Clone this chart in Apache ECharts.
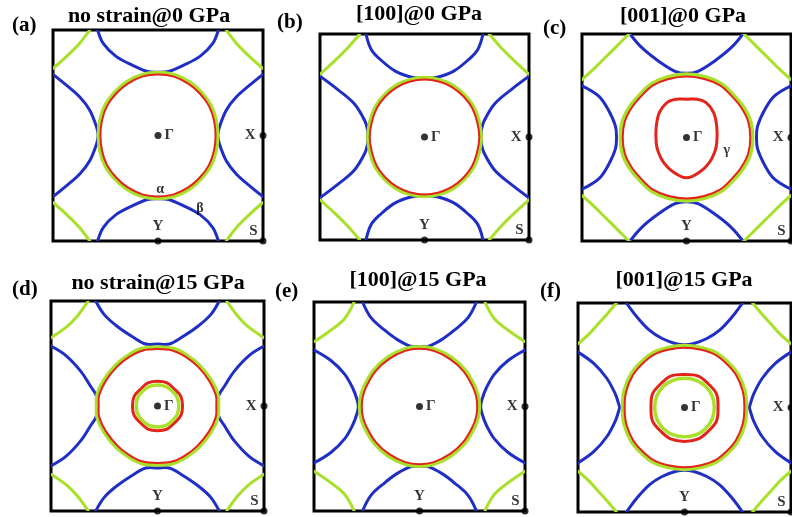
<!DOCTYPE html>
<html>
<head>
<meta charset="utf-8">
<script src="https://cdn.jsdelivr.net/npm/echarts@6/dist/echarts.min.js"></script>
<style>
  html, body { margin: 0; padding: 0; background: #fff; }
  #chart { width: 792px; height: 517px; }
</style>
</head>
<body>
<div id="chart"></div>
<script>
// Fermi surface cuts in the kx-ky plane, six panels: three strain states at 0 and 15 GPa.
// Coordinates are reduced: Γ = (0,0), X = (1,0), Y = (0,-1), S = (1,-1).

const panelTitles = ['no strain@0 GPa', '[100]@0 GPa', '[001]@0 GPa',
                     'no strain@15 GPa', '[100]@15 GPa', '[001]@15 GPa'];
const panelTags = ['(a)', '(b)', '(c)', '(d)', '(e)', '(f)'];

// β sheet (blue) around Y: quarter from (0, ky_min) out to the zone edge at ky = 1
const pocketY = [
  [[0,0.6],[0.1,0.607],[0.24,0.665],[0.4,0.75],[0.52,0.87],[0.575,1]],
  [[0,0.57],[0.12,0.58],[0.28,0.64],[0.42,0.75],[0.51,0.85],[0.56,1]],
  [[0,0.62],[0.11,0.64],[0.27,0.74],[0.43,0.87],[0.54,1]],
  [[0,0.59],[0.11,0.59],[0.22,0.65],[0.38,0.76],[0.5,0.87],[0.58,1]],
  [[0,0.575],[0.08,0.575],[0.21,0.64],[0.33,0.73],[0.46,0.85],[0.54,1]],
  [[0,0.6],[0.08,0.61],[0.21,0.66],[0.33,0.74],[0.45,0.87],[0.545,1]]
];

// β sheet (blue) around X: quarter from (kx_min, 0) out to the zone edge at kx = 1
const pocketX = [
  [[0.57,0],[0.585,0.08],[0.65,0.24],[0.745,0.365],[0.87,0.475],[1,0.58]],
  [[0.54,0],[0.545,0.07],[0.57,0.155],[0.67,0.32],[0.83,0.46],[1,0.59]],
  [[0.67,0],[0.68,0.11],[0.75,0.27],[0.84,0.4],[1,0.5]],
  [[0.57,0],[0.575,0.1],[0.63,0.19],[0.72,0.33],[0.86,0.48],[1,0.57]],
  [[0.58,0],[0.59,0.06],[0.63,0.17],[0.71,0.31],[0.84,0.44],[1,0.54]],
  [[0.61,0],[0.62,0.04],[0.65,0.13],[0.73,0.28],[0.85,0.42],[1,0.53]]
];

// green sheet around S: from the side edge (kx = 1) to the top edge (ky = 1)
const cornerS = [
  [[1,0.635],[0.87,0.75],[0.75,0.87],[0.65,1]],
  [[1,0.61],[0.87,0.73],[0.74,0.86],[0.62,1]],
  [[1,0.56],[0.89,0.66],[0.78,0.77],[0.66,0.89],[0.55,1]],
  [[1,0.65],[0.845,0.76],[0.75,0.86],[0.65,1]],
  [[1,0.62],[0.84,0.73],[0.71,0.84],[0.62,1]],
  [[1,0.61],[0.9,0.7],[0.82,0.79],[0.73,0.89],[0.64,1]]
];

// α sheet around Γ, green and red branches: quarter from (r,0) to (0,r)
const alphaGreen = [
  [[0.565,0],[0.55,0.15],[0.5,0.29],[0.41,0.41],[0.3,0.505],[0.155,0.575],[0,0.595]],
  [[0.54,0],[0.52,0.15],[0.47,0.29],[0.385,0.405],[0.27,0.5],[0.14,0.555],[0,0.575]],
  [[0.63,0],[0.61,0.16],[0.54,0.3],[0.44,0.42],[0.33,0.52],[0.175,0.585],[0,0.61]],
  [[0.57,0],[0.565,0.11],[0.5,0.25],[0.39,0.39],[0.27,0.485],[0.15,0.545],[0,0.56]],
  [[0.565,0],[0.555,0.1],[0.52,0.2],[0.43,0.35],[0.3,0.47],[0.14,0.55],[0,0.57]],
  [[0.58,0],[0.565,0.16],[0.5,0.32],[0.41,0.43],[0.3,0.52],[0.16,0.57],[0,0.59]]
];
const alphaRed = [
  [[0.548,0],[0.533,0.145],[0.485,0.281],[0.398,0.398],[0.291,0.49],[0.15,0.558],[0,0.578]],
  [[0.524,0],[0.504,0.145],[0.456,0.281],[0.374,0.393],[0.262,0.485],[0.136,0.538],[0,0.558]],
  [[0.61,0],[0.59,0.155],[0.523,0.29],[0.426,0.407],[0.32,0.504],[0.17,0.566],[0,0.59]],
  [[0.552,0],[0.547,0.106],[0.484,0.242],[0.377,0.377],[0.261,0.47],[0.145,0.527],[0,0.542]],
  [[0.547,0],[0.537,0.097],[0.503,0.193],[0.416,0.339],[0.29,0.454],[0.135,0.532],[0,0.552]],
  [[0.562,0],[0.547,0.155],[0.484,0.31],[0.397,0.416],[0.29,0.503],[0.155,0.552],[0,0.572]]
];

// inner red pockets (γ): right half, from the top (0, ky_top) down to (0, ky_bottom)
const innerRed = [
  null,
  null,
  [[0,0.37],[0.1,0.37],[0.19,0.335],[0.26,0.24],[0.29,0.1],[0.29,-0.05],[0.27,-0.14],[0.22,-0.24],[0.13,-0.33],[0,-0.39]],
  [[0,0.235],[0.09,0.22],[0.16,0.16],[0.22,0.09],[0.235,0],[0.22,-0.09],[0.16,-0.16],[0.09,-0.22],[0,-0.235]],
  null,
  [[0,0.315],[0.13,0.3],[0.22,0.23],[0.3,0.13],[0.315,0],[0.3,-0.13],[0.22,-0.23],[0.13,-0.3],[0,-0.325]]
];
// inner green pockets: quarter from (r,0) to (0,r)
const innerGreen = [
  null, null, null,
  [[0.2,0],[0.185,0.08],[0.14,0.14],[0.08,0.185],[0,0.2]],
  null,
  [[0.28,0],[0.26,0.11],[0.2,0.2],[0.11,0.26],[0,0.28]]
];

// high-symmetry points
const symPoints = [[0,0],[1,0],[0,-1],[1,-1]];
const symNames = ['Γ', 'X', 'Y', 'S'];

// sheet labels
const greekText = ['α', 'β', 'γ'];
const greekPanel = [0, 0, 2];
const greekPos = [[0.02,-0.515],[0.4,-0.69],[0.385,-0.125]];

// ---- layout ----
const grids = [
  { left: 53,  top: 30,  width: 210, height: 211 },
  { left: 320, top: 34,  width: 209, height: 206 },
  { left: 582, top: 34,  width: 209, height: 207 },
  { left: 51,  top: 301, width: 213, height: 210 },
  { left: 314, top: 302, width: 211, height: 209 },
  { left: 578, top: 303, width: 213, height: 209 }
];
const titlePos = [[149,16],[419,14],[683,16],[158,283],[418,280],[684,280]];
const tagPos = [[12,26],[277,23],[543,29],[12,290],[275,292],[540,292]];

const BLUE = '#1f2fc4';
const GREEN = '#a8e02a';
const RED = '#e3241b';
const SERIF = '"Liberation Serif", "Times New Roman", serif';

// ---- mirror helpers (the sheets share the mirror planes of the zone) ----
function fullRing(q) {
  const q2 = q.slice().reverse().map(([x, y]) => [-x, y]);
  const q3 = q.map(([x, y]) => [-x, -y]);
  const q4 = q.slice().reverse().map(([x, y]) => [x, -y]);
  // closed loop, without repeating the starting point
  return [...q, ...q2.slice(1), ...q3.slice(1), ...q4.slice(1, -1)];
}
function fullFromHalf(h) {
  const left = h.slice().reverse().map(([x, y]) => [-x, y]);
  return [...h, ...left.slice(1, -1)];
}
function yPockets(q) {
  const top = [...q.slice().reverse().map(([x, y]) => [-x, y]), ...q.slice(1)];
  return [top, top.map(([x, y]) => [x, -y])];
}
function xPockets(q) {
  const right = [...q.slice().reverse().map(([x, y]) => [x, -y]), ...q.slice(1)];
  return [right, right.map(([x, y]) => [-x, y])];
}
function corners(q) {
  return [[1,1],[-1,1],[-1,-1],[1,-1]].map(([sx, sy]) => q.map(([x, y]) => [sx * x, sy * y]));
}

// collect the curves of every panel
const panelCurves = [];
for (let i = 0; i < 6; i++) {
  const list = [];
  yPockets(pocketY[i]).forEach(p => list.push({ pts: p, color: BLUE, width: 3, closed: false, z: 1 }));
  xPockets(pocketX[i]).forEach(p => list.push({ pts: p, color: BLUE, width: 3, closed: false, z: 1 }));
  corners(cornerS[i]).forEach(p => list.push({ pts: p, color: GREEN, width: 3, closed: false, z: 2 }));
  list.push({ pts: fullRing(alphaGreen[i]), color: GREEN, width: 4, closed: true, z: 2 });
  list.push({ pts: fullRing(alphaRed[i]), color: RED, width: 2, closed: true, z: 3 });
  if (innerRed[i]) list.push({ pts: fullFromHalf(innerRed[i]), color: RED, width: 3, closed: true, z: 3 });
  if (innerGreen[i]) list.push({ pts: fullRing(innerGreen[i]), color: GREEN, width: 3.5, closed: true, z: 4 });
  panelCurves.push(list);
}

const series = [];
const xAxes = [], yAxes = [], gridOpts = [];
for (let i = 0; i < 6; i++) {
  gridOpts.push(Object.assign({ show: true, borderColor: '#000', borderWidth: 3,
                                backgroundColor: 'transparent' }, grids[i]));
  xAxes.push({ type: 'value', gridIndex: i, min: -1, max: 1, show: false });
  yAxes.push({ type: 'value', gridIndex: i, min: -1, max: 1, show: false });

  // Fermi contours: smooth curves through the listed k-points, placed by the axes
  series.push({
    type: 'custom', xAxisIndex: i, yAxisIndex: i, silent: true, z: 2,
    data: panelCurves[i].map((c, k) => [0, 0, k]),
    encode: { x: 0, y: 1 },
    renderItem: function (params, api) {
      const c = panelCurves[i][api.value(2)];
      const pts = c.pts.map(p => api.coord(p));
      const cs = params.coordSys;
      return {
        type: 'group',
        clipPath: { type: 'rect', shape: { x: cs.x, y: cs.y, width: cs.width, height: cs.height } },
        children: [{
          type: c.closed ? 'polygon' : 'polyline',
          z2: c.z,
          shape: { points: pts, smooth: 0.36 },
          style: { stroke: c.color, lineWidth: c.width, fill: null, lineCap: 'round', lineJoin: 'round' }
        }]
      };
    }
  });

  // high-symmetry points with their labels
  const labelCfg = [
    { position: 'right', offset: [-2, 0] },
    { position: 'left', offset: [1, 0] },
    { position: 'top', offset: [0, 1] },
    { position: 'left', offset: [3, -10] }
  ];
  series.push({
    type: 'scatter', xAxisIndex: i, yAxisIndex: i, clip: false, z: 10, silent: true,
    symbolSize: 7, itemStyle: { color: '#000' },
    data: symPoints.map((p, k) => ({
      value: p, name: symNames[k],
      label: Object.assign({ show: true, formatter: '{b}', color: '#000',
        fontFamily: SERIF, fontWeight: 'bold', fontSize: 15 }, labelCfg[k])
    }))
  });
}

// sheet labels α, β, γ
for (let g = 0; g < greekText.length; g++) {
  const i = greekPanel[g];
  series.push({
    type: 'scatter', xAxisIndex: i, yAxisIndex: i, clip: false, z: 10, silent: true,
    symbolSize: 0,
    data: [{ value: greekPos[g], name: greekText[g] }],
    label: { show: true, position: 'inside', formatter: '{b}', color: '#000',
             fontFamily: SERIF, fontWeight: 'bold', fontSize: 14 }
  });
}

const graphic = [];
for (let i = 0; i < 6; i++) {
  graphic.push({
    type: 'text', x: titlePos[i][0], y: titlePos[i][1], silent: true,
    style: { text: panelTitles[i], fill: '#000', font: 'bold 22px ' + SERIF,
             textAlign: 'center', textVerticalAlign: 'middle' }
  });
  graphic.push({
    type: 'text', x: tagPos[i][0], y: tagPos[i][1], silent: true,
    style: { text: panelTags[i], fill: '#000', font: 'bold 21px ' + SERIF,
             textAlign: 'left', textVerticalAlign: 'middle' }
  });
}

const chart = echarts.init(document.getElementById('chart'), null, { renderer: 'canvas' });
chart.setOption({
  animation: false,
  backgroundColor: '#fff',
  grid: gridOpts,
  xAxis: xAxes,
  yAxis: yAxes,
  series: series,
  graphic: graphic
});
</script>
</body>
</html>
